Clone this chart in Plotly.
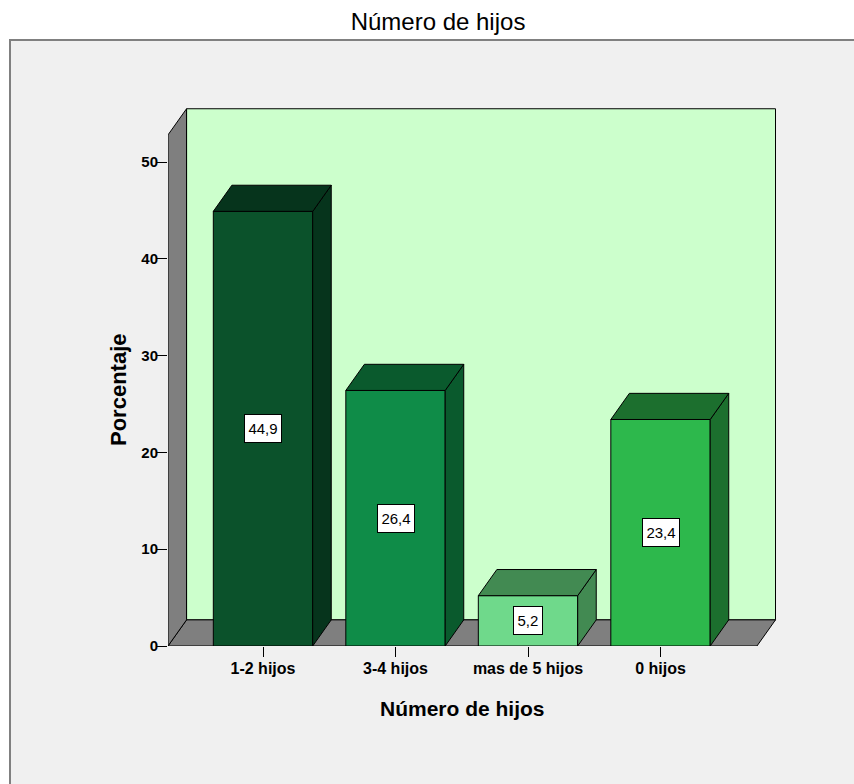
import plotly.graph_objects as go

# ---- data ----
categories = ["1-2 hijos", "3-4 hijos", "mas de 5 hijos", "0 hijos"]
percentages = [44.9, 26.4, 5.2, 23.4]
value_labels = ["44,9", "26,4", "5,2", "23,4"]
y_ticks = [0, 10, 20, 30, 40, 50]

# ---- style ----
front_colors = ["#0B522B", "#0F8C48", "#6FD98B", "#2DB84C"]
shade_colors = ["#06341C", "#0A5A2D", "#428A52", "#1C6F2E"]
FONT = "Liberation Sans, Arial, sans-serif"

BAR_W = 0.75          # bar width in category units
DX = 0.14             # 3D depth offset (category units)
DY = 2.7              # 3D depth offset (percent units)
X0, X1 = -0.717, 3.728  # floor front extent
YTOP = 52.8           # wall height

# figure geometry (body margin removed via post_script)
W, H = 854, 784
PX_PER_CAT = 132.5
PX_PER_PCT = 9.68
L, Rpx, BOT, TOP = 168, 780, 646, 100
XR = [X0, X0 + (Rpx - L) / PX_PER_CAT]
YR = [0, (BOT - TOP) / PX_PER_PCT]
PW, PH = Rpx - L, BOT - TOP


def px(xp):  # figure x pixel -> paper
    return (xp - L) / PW


def py(yp):  # figure y pixel -> paper
    return (BOT - yp) / PH


fig = go.Figure()

# front faces of bars
xs = list(range(len(categories)))
fig.add_trace(go.Bar(
    x=xs, y=percentages, width=BAR_W,
    marker=dict(color=front_colors, line=dict(color="black", width=1)),
    hoverinfo="skip", showlegend=False,
))

# top and side faces
for i, v in enumerate(percentages):
    xl, xr = i - BAR_W / 2, i + BAR_W / 2
    fig.add_trace(go.Scatter(
        x=[xr, xr + DX, xr + DX, xr, xr],
        y=[0, DY, v + DY, v, 0],
        mode="lines", fill="toself", fillcolor=shade_colors[i],
        line=dict(color="black", width=1),
        hoverinfo="skip", showlegend=False,
    ))
    fig.add_trace(go.Scatter(
        x=[xl, xr, xr + DX, xl + DX, xl],
        y=[v, v, v + DY, v + DY, v],
        mode="lines", fill="toself", fillcolor=shade_colors[i],
        line=dict(color="black", width=1),
        hoverinfo="skip", showlegend=False,
    ))

shapes = [
    # outer frame
    dict(type="rect", xref="paper", yref="paper", layer="below",
         x0=px(10), x1=px(880), y0=py(810), y1=py(40),
         fillcolor="#F0F0F0", line=dict(color="#808080", width=2)),
    # back wall
    dict(type="rect", xref="x", yref="y", layer="below",
         x0=X0 + DX, x1=X1 + DX, y0=DY, y1=YTOP + DY,
         fillcolor="#CCFFCC", line=dict(color="black", width=1)),
    # floor
    dict(type="path", xref="x", yref="y", layer="below",
         path=f"M {X0},0 L {X1},0 L {X1 + DX},{DY} L {X0 + DX},{DY} Z",
         fillcolor="#7F7F7F", line=dict(color="black", width=1)),
    # left wall
    dict(type="path", xref="x", yref="y", layer="below",
         path=f"M {X0},0 L {X0},{YTOP} L {X0 + DX},{YTOP + DY} L {X0 + DX},{DY} Z",
         fillcolor="#7F7F7F", line=dict(color="black", width=1)),
]

annotations = []
for i, v in enumerate(percentages):
    txt = value_labels[i]
    tw = sum(4.2 if c == "," else 8.3 for c in txt)
    annotations.append(dict(
        x=i, y=v / 2, xref="x", yref="y", text=txt, showarrow=False,
        xanchor="center", yanchor="middle",
        width=tw + 1, height=21,
        bgcolor="white", bordercolor="black", borderwidth=1, borderpad=3,
        font=dict(family=FONT, size=15, color="black"),
    ))
annotations.append(dict(
    x=px(118), y=py(390), xref="paper", yref="paper", text="Porcentaje",
    textangle=-90, showarrow=False, xanchor="center", yanchor="middle",
    font=dict(family=FONT, size=22, color="black", weight="bold"),
))
annotations.append(dict(
    x=px(462), y=py(708), xref="paper", yref="paper", text="Número de hijos",
    showarrow=False, xanchor="center", yanchor="middle",
    font=dict(family=FONT, size=21, color="black", weight="bold"),
))

fig.update_layout(
    width=W, height=H,
    margin=dict(l=L, r=W - Rpx, t=TOP, b=H - BOT, pad=0),
    paper_bgcolor="white", plot_bgcolor="rgba(0,0,0,0)",
    title=dict(text="Número de hijos", x=438 / W, xanchor="center",
               y=1 - 22 / H, yanchor="middle",
               font=dict(family=FONT, size=24, color="black")),
    shapes=shapes, annotations=annotations,
    xaxis=dict(range=XR, tickvals=xs, ticktext=categories,
               ticks="outside", ticklen=10, tickcolor="black", tickwidth=1,
               ticklabelstandoff=-2,
               showgrid=False, zeroline=False, showline=False, fixedrange=True,
               tickfont=dict(family=FONT, size=16, color="black", weight="bold")),
    yaxis=dict(range=YR, tickvals=y_ticks, ticks="outside", ticklen=10,
               tickcolor="black", tickwidth=1, ticklabelstandoff=-4,
               showgrid=False, zeroline=False, showline=False, fixedrange=True,
               tickfont=dict(family=FONT, size=15, color="black", weight="bold")),
    bargap=0,
)

fig.write_html(
    "out.html",
    config={"displayModeBar": False, "staticPlot": True},
    post_script="document.body.style.margin='0';document.body.style.overflow='hidden';",
)
